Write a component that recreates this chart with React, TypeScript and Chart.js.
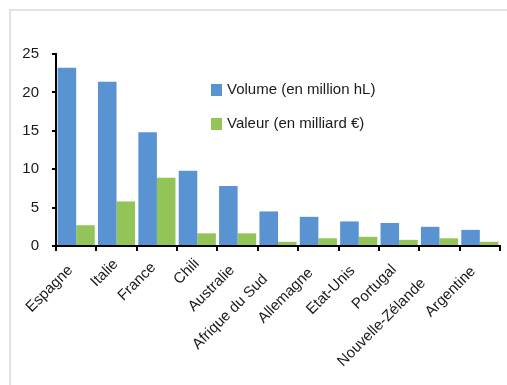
import React, { useEffect, useRef } from "react";
import { Chart, registerables } from "chart.js";

Chart.register(...registerables);

const categories = [
  "Espagne",
  "Italie",
  "France",
  "Chili",
  "Australie",
  "Afrique du Sud",
  "Allemagne",
  "Etat-Unis",
  "Portugal",
  "Nouvelle-Zélande",
  "Argentine",
];
const volumeLabel = "Volume (en million hL)";
const valeurLabel = "Valeur (en milliard €)";
const volume = [23.2, 21.4, 14.8, 9.8, 7.8, 4.5, 3.8, 3.2, 3.0, 2.5, 2.1];
const valeur = [2.7, 5.8, 8.9, 1.65, 1.65, 0.55, 1.0, 1.2, 0.8, 1.0, 0.55];
const yTicks = [0, 5, 10, 15, 20, 25];

const BLUE = "#5A93D2";
const GREEN = "#93C457";
const TEXT = "#1a1a1a";
const FONT = "'Liberation Sans', Arial, sans-serif";

const innerLegend = {
  id: "innerLegend",
  afterDraw(chart: any) {
    const { ctx, chartArea } = chart;
    const x0 = chartArea.left + 155;
    const y0 = chartArea.top + 30;
    ctx.save();
    ctx.font = `15px ${FONT}`;
    ctx.textBaseline = "middle";
    chart.data.datasets.forEach((ds: any, i: number) => {
      const y = y0 + i * 34;
      ctx.fillStyle = ds.backgroundColor;
      ctx.fillRect(x0, y, 11, 12);
      ctx.fillStyle = TEXT;
      ctx.fillText(ds.label, x0 + 16, y + 6);
    });
    ctx.restore();
  },
};

// Rotated category labels, placed like the spreadsheet original
const rotatedLabels = {
  id: "rotatedLabels",
  afterDraw(chart: any) {
    const { ctx, chartArea } = chart;
    const xs = chart.scales.x;
    ctx.save();
    ctx.font = `15px ${FONT}`;
    ctx.fillStyle = TEXT;
    ctx.textAlign = "right";
    ctx.textBaseline = "middle";
    (chart.data.labels as string[]).forEach((lab, i) => {
      const cx = xs.getPixelForValue(i);
      const w = ctx.measureText(lab).width;
      const ax = cx + 5 - 0.18 * w;
      const ay = chartArea.bottom + 9 + 0.22 * w;
      ctx.save();
      ctx.translate(ax, ay);
      ctx.rotate(-Math.PI / 4);
      ctx.fillText(lab, 0, 0);
      ctx.restore();
    });
    ctx.restore();
  },
};

export default function App() {
  const ref = useRef<HTMLCanvasElement | null>(null);
  useEffect(() => {
    if (!ref.current) return;
    const chart = new Chart(ref.current, {
      type: "bar",
      data: {
        labels: categories,
        datasets: [
          { label: volumeLabel, data: volume, backgroundColor: BLUE },
          { label: valeurLabel, data: valeur, backgroundColor: GREEN },
        ],
      },
      options: {
        animation: false,
        responsive: false,
        devicePixelRatio: 1,
        layout: { padding: { top: 43, right: 7, left: 0, bottom: 0 } },
        datasets: {
          bar: { categoryPercentage: 0.92, barPercentage: 1.0 },
        },
        plugins: {
          legend: { display: false },
          tooltip: { enabled: false },
        },
        scales: {
          x: {
            afterFit(scale: any) {
              scale.height = 139;
            },
            grid: {
              display: true,
              offset: true,
              drawOnChartArea: false,
              drawTicks: true,
              tickLength: 5,
              color: "#000",
              lineWidth: 2,
            },
            border: { display: true, color: "#000", width: 2 },
            ticks: {
              display: false,
              autoSkip: false,
            },
          },
          y: {
            min: 0,
            max: 25,
            afterFit(scale: any) {
              scale.width = 45;
            },
            afterBuildTicks(scale: any) {
              scale.ticks = yTicks.map((v) => ({ value: v }));
            },
            grid: {
              display: true,
              drawOnChartArea: false,
              drawTicks: true,
              tickLength: 4,
              color: "#000",
              lineWidth: 2,
            },
            border: { display: true, color: "#000", width: 2 },
            ticks: {
              color: TEXT,
              font: { family: FONT, size: 15 },
              padding: 13,
            },
          },
        },
      },
      plugins: [innerLegend, rotatedLabels],
    });
    return () => chart.destroy();
  }, []);

  return (
    <div
      style={{
        position: "fixed",
        left: 9,
        top: 9,
        borderTop: "2px solid #e2e2e2",
        borderLeft: "2px solid #e2e2e2",
        width: 496,
        height: 374,
        overflow: "hidden",
      }}
    >
      <canvas ref={ref} width={496} height={374} style={{ display: "block" }} />
    </div>
  );
}
